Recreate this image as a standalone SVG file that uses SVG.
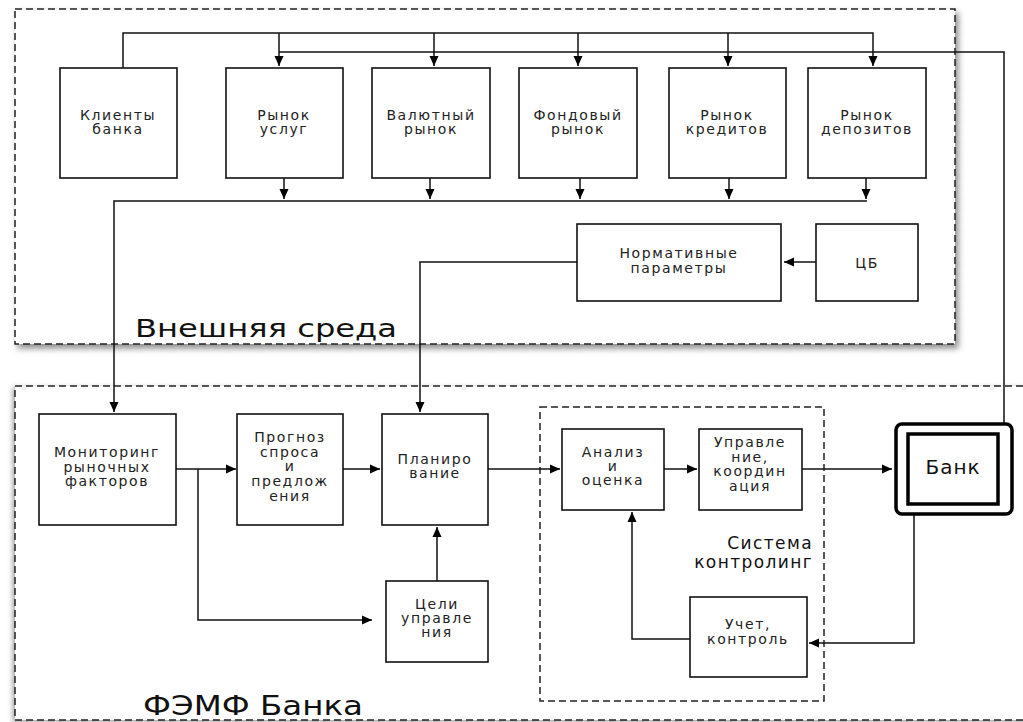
<svg xmlns="http://www.w3.org/2000/svg" width="1023" height="722" viewBox="0 0 1023 722">
<defs>
<marker id="ah" viewBox="0 0 10 10" refX="10" refY="5" markerWidth="11" markerHeight="10" markerUnits="userSpaceOnUse" orient="auto"><path d="M0,0.5 L10,5 L0,9.5 z" fill="#000"/></marker>
<filter id="sh" x="-5%" y="-5%" width="112%" height="115%"><feDropShadow dx="3" dy="4" stdDeviation="3" flood-color="#000" flood-opacity="0.45"/></filter>
<filter id="sh2" x="-5%" y="-5%" width="112%" height="115%"><feDropShadow dx="-2" dy="2" stdDeviation="2.5" flood-color="#000" flood-opacity="0.35"/></filter>
<style>
.box{fill:#fff;stroke:#111;stroke-width:1.6}
.dash{fill:#fff;stroke:#222;stroke-width:1.5;stroke-dasharray:7,4}
.dash2{fill:none;stroke:#222;stroke-width:1.5;stroke-dasharray:7,4}
.t{font-family:"DejaVu Sans",sans-serif;font-size:14px;fill:#222;text-anchor:middle;letter-spacing:1.6px}
.big{font-family:"DejaVu Sans",sans-serif;fill:#111}
.c{fill:none;stroke:#111;stroke-width:1.5}
.a{marker-end:url(#ah)}
</style>
</defs>
<rect width="1023" height="722" fill="#fff"/>
<g id="external">
<rect class="dash" x="15" y="9" width="940" height="335" filter="url(#sh)"/>
<text class="big" x="135" y="337" font-size="24" textLength="262" lengthAdjust="spacingAndGlyphs">Внешняя среда</text>
</g>
<g id="femf">
<rect class="dash" x="15" y="386" width="1030" height="334" filter="url(#sh2)"/>
<text class="big" x="143" y="715" font-size="26" textLength="220" lengthAdjust="spacingAndGlyphs">ФЭМФ Банка</text>
</g>
<g id="controlling">
<rect class="dash2" x="540" y="407" width="284" height="294"/>
<text class="big" x="813" y="549" font-size="17" text-anchor="end" letter-spacing="1.4">Система</text>
<text class="big" x="813" y="568" font-size="17" text-anchor="end" letter-spacing="1.4">контролинг</text>
</g>
<g id="connectors">
<path class="c a" d="M123,68 V33 H873 V66"/>
<path class="c a" d="M279,33 V66"/>
<path class="c a" d="M434,33 V66"/>
<path class="c a" d="M578,33 V66"/>
<path class="c a" d="M728,33 V66"/>
<path class="c" d="M1004,424 V52 H279"/>
<path class="c a" d="M284,178 V199"/>
<path class="c a" d="M430,178 V199"/>
<path class="c a" d="M580,178 V199"/>
<path class="c a" d="M729,178 V199"/>
<path class="c a" d="M866,178 V199"/>
<path class="c a" d="M867,201 H114 V412"/>
<path class="c a" d="M816,262 H784"/>
<path class="c a" d="M577,262 H420 V412"/>
<path class="c a" d="M176,469 H236"/>
<path class="c a" d="M198,469 V620 H372"/>
<path class="c a" d="M343,469 H380"/>
<path class="c a" d="M437,581 V527"/>
<path class="c a" d="M488,469 H560"/>
<path class="c a" d="M664,469 H697"/>
<path class="c a" d="M802,469 H892"/>
<path class="c a" d="M914,514 V643 H809"/>
<path class="c a" d="M690,639 H632 V512"/>
</g>
<g id="clients"><rect class="box" x="60" y="68" width="117" height="110"/><text class="t" x="118" y="120">Клиенты</text><text class="t" x="118" y="134">банка</text></g>
<g id="services"><rect class="box" x="226" y="68" width="117" height="110"/><text class="t" x="284" y="120">Рынок</text><text class="t" x="284" y="134">услуг</text></g>
<g id="currency"><rect class="box" x="372" y="68" width="118" height="110"/><text class="t" x="431" y="120">Валютный</text><text class="t" x="431" y="134">рынок</text></g>
<g id="stock"><rect class="box" x="519" y="68" width="118" height="110"/><text class="t" x="578" y="120">Фондовый</text><text class="t" x="578" y="134">рынок</text></g>
<g id="credits"><rect class="box" x="669" y="68" width="117" height="110"/><text class="t" x="727" y="120">Рынок</text><text class="t" x="727" y="134">кредитов</text></g>
<g id="deposits"><rect class="box" x="808" y="68" width="118" height="110"/><text class="t" x="867" y="120">Рынок</text><text class="t" x="867" y="134">депозитов</text></g>
<g id="norms"><rect class="box" x="577" y="224" width="204" height="77"/><text class="t" x="679" y="258" font-size="15">Нормативные</text><text class="t" x="679" y="273" font-size="15">параметры</text></g>
<g id="cb"><rect class="box" x="816" y="224" width="102" height="77"/><text class="t" x="867" y="268" font-size="15">ЦБ</text></g>
<g id="monitoring"><rect class="box" x="39" y="414" width="137" height="111"/><text class="t" x="107" y="457">Мониторинг</text><text class="t" x="107" y="472">рыночных</text><text class="t" x="107" y="486">факторов</text></g>
<g id="forecast"><rect class="box" x="237" y="414" width="106" height="111"/><text class="t" x="290" y="442">Прогноз</text><text class="t" x="290" y="457">спроса</text><text class="t" x="290" y="471">и</text><text class="t" x="290" y="486">предлож</text><text class="t" x="290" y="501">ения</text></g>
<g id="planning"><rect class="box" x="382" y="414" width="106" height="111"/><text class="t" x="435" y="464">Планиро</text><text class="t" x="435" y="478">вание</text></g>
<g id="goals"><rect class="box" x="386" y="581" width="102" height="81"/><text class="t" x="437" y="609">Цели</text><text class="t" x="437" y="623">управле</text><text class="t" x="437" y="637">ния</text></g>
<g id="analysis"><rect class="box" x="562" y="429" width="102" height="81"/><text class="t" x="613" y="457">Анализ</text><text class="t" x="613" y="471">и</text><text class="t" x="613" y="485">оценка</text></g>
<g id="management"><rect class="box" x="699" y="429" width="103" height="81"/><text class="t" x="750" y="447" font-size="13">Управле</text><text class="t" x="750" y="461.5" font-size="13">ние,</text><text class="t" x="750" y="476" font-size="13">координ</text><text class="t" x="750" y="490.5" font-size="13">ация</text></g>
<g id="accounting"><rect class="box" x="690" y="597" width="117" height="80"/><text class="t" x="748" y="629">Учет,</text><text class="t" x="748" y="644">контроль</text></g>
<g id="bank"><rect x="896" y="424" width="116" height="90" rx="6" fill="#fff" stroke="#000" stroke-width="3.5"/><rect x="908" y="434" width="90" height="70" fill="#fff" stroke="#000" stroke-width="3.5"/><text class="big" x="953" y="474" font-size="20" text-anchor="middle" letter-spacing="1">Банк</text></g>
</svg>
